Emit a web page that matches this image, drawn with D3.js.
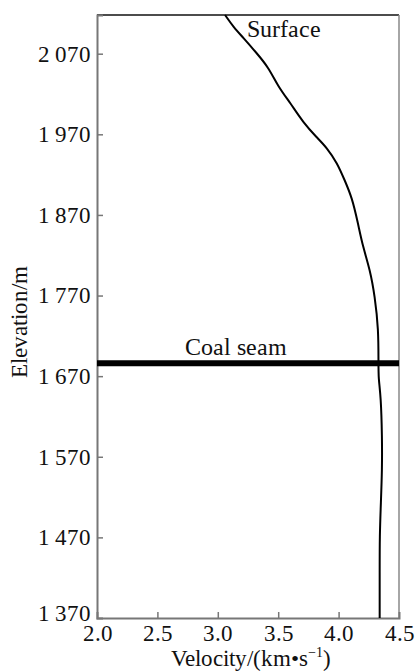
<!DOCTYPE html>
<html>
<head>
<meta charset="utf-8">
<script src="https://cdn.jsdelivr.net/npm/d3@7"></script>
<style>
  @font-face {
    font-family: "ChartSerif";
    src: local("Liberation Serif"), local("LiberationSerif"), local("Liberation Serif Regular"), local("Times New Roman");
  }
  body { margin: 0; }
</style>
</head>
<body>
<svg></svg>
<script>
// velocity profile (km/s vs elevation m)
let velocity = [3.06, 3.13, 3.21, 3.32, 3.42, 3.5, 3.6, 3.71, 3.82, 3.9, 3.99, 4.05, 4.11,
  4.16, 4.2, 4.26, 4.3, 4.33, 4.33, 4.33, 4.35, 4.36, 4.36, 4.35, 4.34, 4.34, 4.34];
let elevation = [2118, 2103, 2090, 2071, 2053, 2029, 2009, 1984, 1966, 1954, 1934, 1913, 1892,
  1860, 1831, 1802, 1769, 1728, 1687, 1667, 1645, 1595, 1554, 1513, 1471, 1430, 1370];
let xTicks = [2.0, 2.5, 3.0, 3.5, 4.0, 4.5];
let yTicks = [1370, 1470, 1570, 1670, 1770, 1870, 1970, 2070];
let coalSeam = 1686;

let width = 418;
let height = 672;
let margin = { top: 15, right: 19, bottom: 54, left: 97 };
let fontFam = '"ChartSerif", "Liberation Serif"';

let svg = d3.select("svg").attr("width", width).attr("height", height);

let x = d3.scaleLinear().domain([2.0, 4.5]).range([margin.left, width - margin.right]);
let y = d3.scaleLinear().domain([1370, 2118]).range([height - margin.bottom, margin.top]);

let fmtY = (d) => String(d).replace(/(\d)(\d{3})$/, "$1\u2009$2");

// frame: top black, right grey
svg.append("line")
  .attr("x1", x(2.0)).attr("x2", x(4.5))
  .attr("y1", y(2118)).attr("y2", y(2118))
  .style("stroke", "#111").style("stroke-width", 1.5);
svg.append("line")
  .attr("x1", x(4.5)).attr("x2", x(4.5))
  .attr("y1", y(2118)).attr("y2", y(1370))
  .style("stroke", "#888").style("stroke-width", 1.5);

let xAxis = svg.append("g")
  .attr("transform", `translate(0,${y(1370)})`)
  .call(d3.axisBottom(x).tickValues(xTicks).tickFormat(d3.format(".1f")).tickSize(-6).tickPadding(7));

let yAxis = svg.append("g")
  .attr("transform", `translate(${x(2.0)},0)`)
  .call(d3.axisLeft(y).tickValues(yTicks).tickFormat(fmtY).tickSize(-6).tickPadding(6));

for (let ax of [xAxis, yAxis]) {
  ax.attr("font-family", null).attr("font-size", null);
  ax.select(".domain").style("stroke", "#777").style("stroke-width", 2);
  ax.selectAll(".tick line").style("stroke", "#777").style("stroke-width", 1.5);
  ax.selectAll(".tick text").style("fill", "#111").style("font-size", "23px");
}
xAxis.selectAll(".tick line").filter((d) => d == 2.0 || d == 4.5).remove();
yAxis.selectAll(".tick line").filter((d) => d == 1370).remove();
yAxis.selectAll(".tick text").filter((d) => d == 1370).attr("dy", "0.1em");

// coal seam band
svg.append("line")
  .attr("x1", x(2.0)).attr("x2", x(4.5))
  .attr("y1", y(coalSeam)).attr("y2", y(coalSeam))
  .style("stroke", "#000").style("stroke-width", 6);

svg.append("text")
  .attr("x", 236).attr("y", y(coalSeam) - 8)
  .attr("text-anchor", "middle")
  .style("font-size", "24px")
  .text("Coal seam");

// velocity curve
let pts = velocity.map((v, i) => [v, elevation[i]]);
let line = d3.line()
  .x((d) => x(d[0]))
  .y((d) => y(d[1]))
  .curve(d3.curveBasis);

svg.append("path")
  .datum(pts)
  .attr("d", line)
  .style("fill", "none")
  .style("stroke", "#000")
  .style("stroke-width", 2);

svg.append("text")
  .attr("x", 247).attr("y", 37)
  .style("font-size", "24px")
  .text("Surface");

// axis titles
let xt = svg.append("text")
  .attr("x", 251).attr("y", 666)
  .attr("text-anchor", "middle")
  .style("font-size", "23px");
xt.append("tspan").text("Velocity/(km\u2022s");
xt.append("tspan").attr("dy", -9).style("font-size", "14px").text("\u22121");
xt.append("tspan").attr("dy", 9).text(")");

svg.append("text")
  .attr("transform", `translate(27,${(y(1370) + y(2118)) / 2 + 5}) rotate(-90)`)
  .attr("text-anchor", "middle")
  .style("font-size", "23px")
  .text("Elevation/m");

svg.selectAll("text").style("font-family", fontFam).style("fill", "#111");
</script>
</body>
</html>
